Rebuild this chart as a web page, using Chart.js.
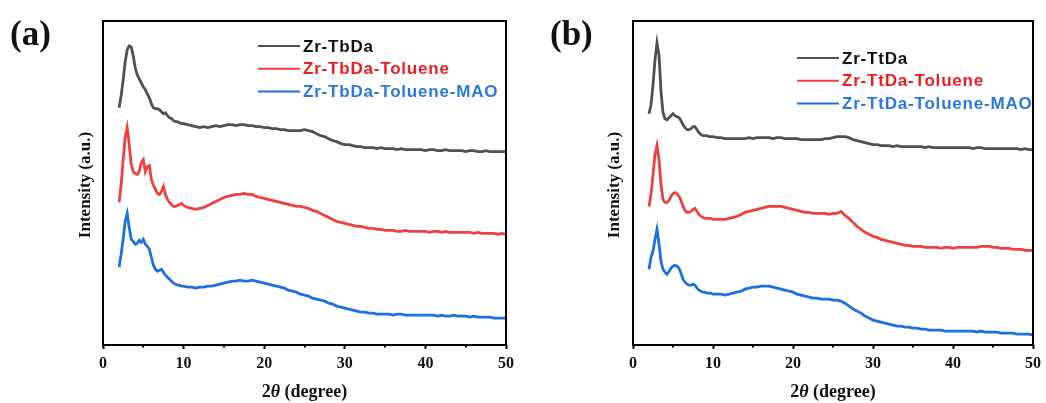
<!DOCTYPE html>
<html>
<head>
<meta charset="utf-8">
<script src="https://cdn.jsdelivr.net/npm/chart.js@4.4.1/dist/chart.umd.min.js"></script>
<style>
  html, body { margin: 0; padding: 0; background: #fff; }
  #wrap { position: relative; width: 1046px; height: 403px; }
  .panel { position: absolute; top: 0; width: 523px; height: 403px; }
</style>
</head>
<body>
<div id="wrap">
  <div class="panel" style="left:0"><canvas id="chartA" width="523" height="403"></canvas></div>
  <div class="panel" style="left:523px"><canvas id="chartB" width="523" height="403"></canvas></div>
</div>
<script>
// 2-theta grid (degrees): fine steps over the low-angle peaks, 0.5 deg afterwards
const angles = [
  2, 2.25, 2.5, 2.75, 3, 3.25, 3.5, 3.75, 4, 4.25, 4.5,
  4.75, 5, 5.25, 5.5, 5.75, 6, 6.25, 6.5, 6.75, 7, 7.25,
  7.5, 7.75, 8, 8.25, 8.5, 8.75, 9, 9.25, 9.5, 9.75, 10,
  10.5, 11, 11.5, 12, 12.5, 13, 13.5, 14, 14.5, 15,
  15.5, 16, 16.5, 17, 17.5, 18, 18.5, 19, 19.5, 20,
  20.5, 21, 21.5, 22, 22.5, 23, 23.5, 24, 24.5, 25,
  25.5, 26, 26.5, 27, 27.5, 28, 28.5, 29, 29.5, 30,
  30.5, 31, 31.5, 32, 32.5, 33, 33.5, 34, 34.5, 35,
  35.5, 36, 36.5, 37, 37.5, 38, 38.5, 39, 39.5, 40,
  40.5, 41, 41.5, 42, 42.5, 43, 43.5, 44, 44.5, 45,
  45.5, 46, 46.5, 47, 47.5, 48, 48.5, 49, 49.5, 50
];

// (a) stacked patterns, intensity in a.u. (offset for display)
const tbda = [
  292, 304, 320, 338, 350, 354, 353, 344, 332, 325, 321,
  317, 313, 310, 306, 302, 296, 292, 291, 291, 290, 288,
  286, 287, 284, 282, 281, 279, 278, 278, 277, 276, 276,
  275, 274, 273, 272, 273, 272, 273, 274, 273, 274,
  275, 275, 274, 275, 275, 274, 274, 273, 273, 272,
  272, 271, 271, 270, 270, 269, 269, 269, 269, 270,
  269, 268, 266, 264, 263, 261, 259, 258, 256, 255,
  255, 254, 253, 253, 252, 252, 252, 251, 252, 251,
  251, 251, 250, 251, 250, 250, 250, 250, 250, 249,
  250, 250, 249, 249, 250, 249, 249, 249, 249, 248,
  249, 249, 248, 248, 249, 248, 248, 248, 248, 248
];
const tbdaToluene = [
  197, 215, 240, 262, 272, 255, 235, 228, 226, 225, 228,
  237, 240, 228, 233, 234, 220, 214, 210, 206, 205, 208,
  213, 205, 200, 197, 195, 193, 193, 194, 195, 196, 194,
  192, 191, 190, 191, 192, 194, 196, 198, 200, 202,
  203, 204, 205, 205, 206, 205, 205, 203, 202, 201,
  200, 199, 198, 197, 196, 195, 194, 193, 193, 192,
  191, 189, 188, 186, 184, 182, 180, 178, 177, 176,
  175, 174, 173, 173, 172, 171, 171, 170, 170, 169,
  169, 169, 168, 168, 169, 168, 168, 168, 168, 168,
  167, 168, 168, 167, 168, 167, 167, 167, 167, 167,
  167, 166, 167, 166, 166, 166, 166, 165, 166, 165
];
const tbdaTolueneMao = [
  132, 145, 160, 178, 186, 172, 160, 158, 155, 156, 159,
  157, 160, 155, 153, 150, 142, 134, 130, 128, 129, 130,
  127, 124, 122, 120, 118, 116, 115, 114, 114, 113, 113,
  112, 112, 111, 112, 112, 113, 113, 114, 115, 116,
  117, 118, 118, 119, 118, 118, 119, 118, 117, 116,
  115, 114, 113, 112, 111, 109, 108, 107, 105, 104,
  103, 101, 100, 99, 98, 96, 95, 93, 92, 91,
  90, 89, 88, 87, 87, 86, 86, 85, 85, 85,
  85, 84, 85, 85, 84, 84, 84, 84, 84, 84,
  84, 84, 83, 84, 83, 83, 84, 83, 83, 83,
  82, 83, 82, 82, 82, 82, 81, 81, 81, 81
];

// (b) stacked patterns
const ttda = [
  286, 295, 315, 340, 357, 345, 308, 287, 281, 280, 282,
  284, 286, 284, 283, 282, 279, 275, 272, 270, 270, 271,
  273, 273, 270, 267, 265, 264, 264, 264, 263, 263, 263,
  262, 262, 261, 261, 261, 261, 261, 261, 262, 261,
  262, 262, 262, 262, 261, 262, 262, 261, 261, 261,
  261, 260, 260, 260, 260, 260, 260, 261, 261, 262,
  263, 263, 263, 262, 260, 259, 258, 257, 256, 255,
  255, 254, 254, 254, 253, 254, 253, 253, 253, 253,
  253, 253, 252, 253, 252, 252, 252, 252, 252, 252,
  252, 252, 252, 252, 251, 252, 252, 251, 251, 251,
  251, 251, 251, 251, 251, 251, 250, 251, 250, 250
];
const ttdaToluene = [
  193, 205, 225, 245, 254, 240, 215, 200, 197, 197, 199,
  203, 206, 207, 206, 203, 199, 193, 189, 187, 187, 188,
  190, 191, 188, 185, 183, 182, 181, 181, 181, 181, 180,
  180, 180, 180, 181, 182, 183, 185, 187, 188, 189,
  190, 191, 192, 193, 193, 193, 193, 192, 191, 190,
  189, 188, 187, 187, 186, 186, 186, 186, 185, 186,
  186, 188, 184, 181, 177, 173, 170, 167, 165, 163,
  162, 160, 159, 158, 157, 156, 155, 154, 154, 153,
  153, 153, 152, 152, 152, 152, 151, 152, 152, 151,
  152, 152, 152, 152, 152, 152, 153, 153, 153, 152,
  152, 151, 151, 151, 150, 150, 150, 149, 149, 149
];
const ttdaTolueneMao = [
  130, 142, 148, 160, 170, 155, 138, 130, 127, 125, 128,
  131, 133, 134, 133, 131, 126, 120, 117, 115, 114, 114,
  115, 114, 111, 109, 108, 107, 107, 106, 106, 106, 105,
  105, 105, 104, 105, 106, 107, 108, 110, 111, 112,
  112, 113, 113, 113, 112, 111, 110, 109, 108, 107,
  105, 104, 103, 102, 101, 101, 100, 100, 100, 99,
  99, 98, 96, 93, 90, 88, 86, 83, 81, 79,
  78, 77, 76, 75, 74, 73, 73, 72, 72, 71,
  71, 70, 70, 69, 69, 69, 69, 68, 68, 68,
  68, 68, 68, 68, 68, 67, 68, 67, 67, 67,
  67, 66, 66, 66, 66, 65, 65, 65, 65, 64
];

const namesA = ['Zr-TbDa', 'Zr-TbDa-Toluene', 'Zr-TbDa-Toluene-MAO'];
const namesB = ['Zr-TtDa', 'Zr-TtDa-Toluene', 'Zr-TtDa-Toluene-MAO'];
const xTickValues = [0, 10, 20, 30, 40, 50];
const xMinorTicks = [5, 15, 25, 35, 45];

const lineColors = ['#505050', '#f03f3f', '#1f6fe0'];
const textColors = ['#111111', '#ee1c22', '#2a7ade'];
const SERIF = '"Liberation Serif", "Times New Roman", serif';
const SANS = '"Liberation Sans", Arial, sans-serif';

[tbda, tbdaToluene, tbdaTolueneMao, ttda, ttdaToluene, ttdaTolueneMao].forEach(s => {
  if (s.length !== angles.length) throw new Error('series length ' + s.length + ' != ' + angles.length);
});

// frame, minor ticks, legend and axis titles
const decorPlugin = {
  id: 'decor',
  afterDraw(chart, args, o) {
    const { ctx, chartArea: a } = chart;
    const x = chart.scales.x;
    ctx.save();

    ctx.strokeStyle = '#000';
    ctx.lineWidth = 2;
    xMinorTicks.forEach(v => {
      const px = Math.round(x.getPixelForValue(v));
      ctx.beginPath();
      ctx.moveTo(px, a.bottom);
      ctx.lineTo(px, a.bottom + 2.5);
      ctx.stroke();
    });
    ctx.strokeRect(a.left, a.top, a.right - a.left, a.bottom - a.top);

    // legend
    ctx.font = 'bold 17px ' + SANS;
    ctx.letterSpacing = '0.8px';
    ctx.textBaseline = 'middle';
    ctx.textAlign = 'left';
    chart.data.datasets.forEach((ds, i) => {
      const y = o.legendY + i * 22.8;
      ctx.strokeStyle = ds.borderColor;
      ctx.lineWidth = 2;
      ctx.beginPath();
      ctx.moveTo(o.legendX, y);
      ctx.lineTo(o.legendX + 42, y);
      ctx.stroke();
      ctx.fillStyle = textColors[i];
      ctx.fillText(ds.label, o.legendX + 45, y + 1);
    });
    ctx.letterSpacing = '0px';

    // y title
    ctx.fillStyle = '#111';
    ctx.font = 'bold 17px ' + SERIF;
    ctx.save();
    ctx.translate(o.yTitleX, (a.top + a.bottom) / 2 + 2);
    ctx.rotate(-Math.PI / 2);
    ctx.textAlign = 'center';
    ctx.fillText('Intensity (a.u.)', 0, 0);
    ctx.restore();

    // x title: 2θ (degree) with italic theta
    const parts = [
      ['2', 'bold 18px ' + SERIF],
      ['\u03b8', 'italic bold 18px ' + SERIF],
      [' (degree)', 'bold 18px ' + SERIF]
    ];
    let total = 0;
    parts.forEach(p => { ctx.font = p[1]; total += ctx.measureText(p[0]).width; });
    let cx = (a.left + a.right) / 2 - total / 2;
    ctx.textAlign = 'left';
    parts.forEach(p => {
      ctx.font = p[1];
      ctx.fillText(p[0], cx, 392);
      cx += ctx.measureText(p[0]).width;
    });

    // panel label
    ctx.font = 'bold 35px ' + SERIF;
    ctx.textBaseline = 'alphabetic';
    ctx.fillText(o.panel, o.panelX, 45);
    ctx.restore();
  }
};

function makeChart(id, series, names, cfg) {
  return new Chart(document.getElementById(id), {
    type: 'line',
    data: {
      datasets: series.map((s, i) => ({
        label: names[i],
        data: angles.map((a, k) => ({ x: a, y: s[k] })),
        borderColor: lineColors[i],
        borderWidth: 2.8,
        pointRadius: 0,
        tension: 0,
        fill: false
      }))
    },
    options: {
      responsive: false,
      animation: false,
      events: [],
      layout: { padding: { top: 21, right: cfg.padRight, left: 0, bottom: 0 } },
      scales: {
        x: {
          type: 'linear',
          min: 0,
          max: 50,
          afterFit: s => { s.height = 58; },
          afterBuildTicks: s => { s.ticks = xTickValues.map(v => ({ value: v })); },
          grid: { display: true, drawOnChartArea: false, drawTicks: true, tickLength: 4, tickWidth: 2, tickColor: '#000' },
          border: { display: false },
          ticks: {
            color: '#111',
            padding: 5,
            maxRotation: 0,
            autoSkip: false,
            font: { family: SERIF, weight: 'bold', size: 16 }
          }
        },
        y: {
          min: 54,
          max: 379,
          afterFit: s => { s.width = cfg.left; },
          grid: { display: false },
          border: { display: false },
          ticks: { display: false }
        }
      },
      plugins: {
        legend: { display: false },
        tooltip: { enabled: false },
        decor: cfg.decor
      }
    },
    plugins: [decorPlugin]
  });
}

makeChart('chartA', [tbda, tbdaToluene, tbdaTolueneMao], namesA, {
  left: 103, padRight: 17,
  decor: { legendX: 258, legendY: 46, yTitleX: 86, panel: '(a)', panelX: 10 }
});
makeChart('chartB', [ttda, ttdaToluene, ttdaTolueneMao], namesB, {
  left: 110, padRight: 10,
  decor: { legendX: 274, legendY: 58, yTitleX: 92, panel: '(b)', panelX: 27 }
});
</script>
</body>
</html>
